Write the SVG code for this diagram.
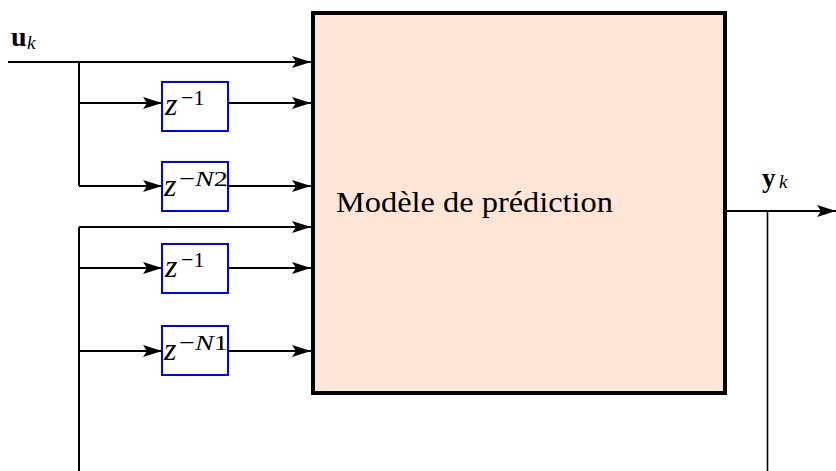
<svg xmlns="http://www.w3.org/2000/svg" width="836" height="471" viewBox="0 0 836 471">
<style>
.ln{stroke:#000;stroke-width:2;fill:none}
.arr{marker-end:url(#ah)}
.dl{fill:#fff;stroke:#0000ff;stroke-width:2}
.t{font-family:"Liberation Serif",serif;fill:#000}
.it{font-style:italic}
.bd{font-weight:bold}
</style>
<defs>
<marker id="ah" markerUnits="userSpaceOnUse" markerWidth="22" markerHeight="14" refX="20" refY="7" orient="auto" viewBox="0 0 22 14">
<path d="M20,7 L1,1 L5,7 L1,13 Z" fill="#000"/>
</marker>
</defs>
<rect width="836" height="471" fill="#fff"/>
<g id="connectors">
<path class="ln arr" d="M8,62 H311"/>
<path class="ln" d="M79,62 V186"/>
<path class="ln arr" d="M79,103 H162"/>
<path class="ln arr" d="M228,103 H311"/>
<path class="ln arr" d="M79,186 H162"/>
<path class="ln arr" d="M228,186 H311"/>
<path class="ln" d="M79,471 V227"/>
<path class="ln arr" d="M79,227 H311"/>
<path class="ln arr" d="M79,268 H162"/>
<path class="ln arr" d="M228,268 H311"/>
<path class="ln arr" d="M79,351 H162"/>
<path class="ln arr" d="M228,351 H311"/>
<path class="ln arr" d="M725,211 H836"/>
<path class="ln" style="stroke-width:1.6" d="M767.5,211 V471"/>
</g>
<g id="model">
<rect x="313" y="13" width="412" height="380" fill="#fee5d5" stroke="#000" stroke-width="4"/>
<text class="t" x="336" y="212" font-size="29" textLength="277" lengthAdjust="spacingAndGlyphs">Modèle de prédiction</text>
</g>
<g id="delay-u1">
<rect class="dl" x="162" y="82" width="66" height="49"/>
<text class="t it" x="165" y="115" font-size="32">z</text>
<text class="t" x="181" y="105" font-size="22">−1</text>
</g>
<g id="delay-uN2">
<rect class="dl" x="162" y="162" width="66" height="49"/>
<text class="t it" x="164" y="196" font-size="32">z</text>
<text class="t" x="179" y="186" font-size="22" textLength="49" lengthAdjust="spacingAndGlyphs">−<tspan class="it">N</tspan>2</text>
</g>
<g id="delay-y1">
<rect class="dl" x="162" y="244" width="66" height="49"/>
<text class="t it" x="165" y="277" font-size="32">z</text>
<text class="t" x="181" y="267" font-size="22">−1</text>
</g>
<g id="delay-yN1">
<rect class="dl" x="162" y="326" width="66" height="49"/>
<text class="t it" x="164" y="360" font-size="32">z</text>
<text class="t" x="179" y="350" font-size="22" textLength="49" lengthAdjust="spacingAndGlyphs">−<tspan class="it">N</tspan>1</text>
</g>
<g id="label-u">
<text class="t bd" x="11" y="46" font-size="28">u</text>
<text class="t it" x="27" y="49" font-size="19">k</text>
</g>
<g id="label-y">
<text class="t bd" x="762" y="187" font-size="27">y</text>
<text class="t it" x="779" y="188" font-size="19">k</text>
</g>
</svg>
